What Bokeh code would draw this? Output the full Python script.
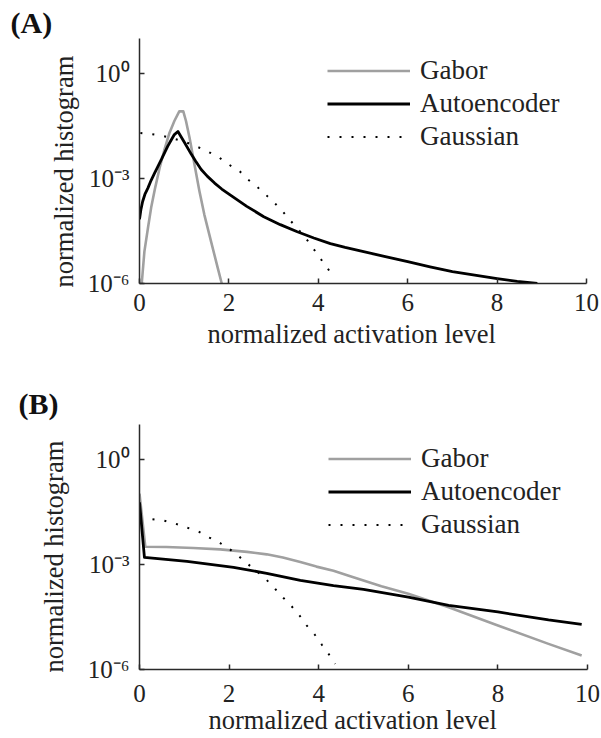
from bokeh.plotting import figure
from bokeh.models import Range1d, FixedTicker, Legend, LegendItem, Title
from bokeh.layouts import column
from bokeh.embed import file_html
from bokeh.resources import INLINE

# ---- data -------------------------------------------------------------
# panel (A)
act_gabor_a = [0.05, 0.11, 0.19, 0.26, 0.35, 0.45, 0.56, 0.67, 0.78, 0.89,
               0.98, 1.04, 1.12, 1.23, 1.34, 1.45, 1.60, 1.75, 1.84]
hist_gabor_a = [1.0e-6, 8.3e-6, 3.9e-5, 1.45e-4, 5.4e-4, 2.0e-3, 6.8e-3, 2.0e-2, 4.4e-2, 8.3e-2,
                8.3e-2, 4.4e-2, 1.45e-2, 2.5e-3, 4.4e-4, 9.3e-5, 1.6e-5, 2.8e-6, 1.0e-6]

act_auto_a = [0.00, 0.03, 0.07, 0.12, 0.19, 0.26, 0.34, 0.41, 0.49, 0.56, 0.63, 0.70, 0.78, 0.86,
              1.01, 1.16, 1.25, 1.38, 1.52, 1.68, 1.84, 2.01, 2.40, 2.78, 3.15, 3.53, 3.90,
              4.27, 4.60, 4.94, 5.50, 6.00, 6.50, 7.00, 7.50, 8.00, 8.45, 8.90]
hist_auto_a = [6.8e-5, 1.26e-4, 2.2e-4, 3.5e-4, 5.4e-4, 8.9e-4, 1.45e-3, 2.2e-3, 3.5e-3, 5.4e-3,
               8.3e-3, 1.2e-2, 1.8e-2, 2.2e-2,
               1.05e-2, 4.9e-3, 3.2e-3, 1.8e-3, 1.15e-3, 7.4e-4, 5.0e-4, 3.5e-4, 1.6e-4, 8.1e-5,
               4.8e-5, 3.0e-5, 2.0e-5,
               1.38e-5, 1.07e-5, 8.5e-6, 5.9e-6, 4.2e-6, 3.0e-6, 2.2e-6, 1.74e-6, 1.38e-6,
               1.15e-6, 1.0e-6]

act_gauss_a = [0.02, 0.26, 0.52, 0.79, 1.05, 1.29, 1.54, 1.79, 2.00, 2.24, 2.42,
               2.63, 2.83, 3.03, 3.21, 3.39, 3.56, 3.74, 3.90, 4.05, 4.21, 4.36]
hist_gauss_a = [2.0e-2, 1.86e-2, 1.66e-2, 1.35e-2, 1.07e-2, 8.1e-3, 5.8e-3, 3.9e-3, 2.5e-3,
                1.62e-3, 9.5e-4, 5.8e-4, 3.4e-4, 1.95e-4, 1.12e-4, 6.0e-5, 3.4e-5, 1.82e-5,
                9.5e-6, 5.1e-6, 2.7e-6, 1.38e-6]

# panel (B)
act_gabor_b = [0.00, 0.13, 0.60, 1.20, 1.80, 2.40, 2.84, 3.20, 3.59, 3.95, 4.33, 4.67,
               5.00, 5.40, 6.00, 6.90, 8.00, 9.13, 9.87]
hist_gabor_b = [1.05e-1, 3.2e-3, 3.15e-3, 2.95e-3, 2.7e-3, 2.3e-3, 1.95e-3, 1.58e-3, 1.17e-3,
                8.7e-4, 6.6e-4, 4.8e-4, 3.5e-4, 2.4e-4, 1.45e-4, 6.0e-5, 1.8e-5, 5.4e-6, 2.5e-6]

act_auto_b = [0.00, 0.11, 1.06, 2.10, 2.84, 3.59, 4.33, 5.00, 6.00, 6.90, 8.00, 9.13, 9.87]
hist_auto_b = [6.0e-2, 1.6e-3, 1.23e-3, 8.3e-4, 5.6e-4, 3.5e-4, 2.5e-4, 1.95e-4, 1.17e-4,
               6.8e-5, 4.4e-5, 2.6e-5, 1.95e-5]

act_gauss_b = [0.29, 0.55, 0.81, 1.07, 1.32, 1.56, 1.80, 2.02, 2.23, 2.43, 2.63,
               2.84, 3.03, 3.21, 3.40, 3.57, 3.73, 3.91, 4.07, 4.22, 4.37]
hist_gauss_b = [1.95e-2, 1.78e-2, 1.45e-2, 1.12e-2, 8.7e-3, 5.9e-3, 4.1e-3, 2.7e-3, 1.66e-3,
                1.0e-3, 6.2e-4, 3.6e-4, 2.0e-4, 1.12e-4, 6.3e-5, 3.5e-5, 1.82e-5, 1.0e-5,
                5.1e-6, 2.8e-6, 1.45e-6]

series_names = ["Gabor", "Autoencoder", "Gaussian"]
x_ticks = [0, 2, 4, 6, 8, 10]
y_ticks = [1e-6, 1e-3, 1e0]
y_tick_labels = ["10\u207b\u2076", "10\u207b\u00b3", "10\u2070"]
x_title = "normalized activation level"
y_title = "normalized histogram"

SERIF = "Liberation Serif"
AXIS_COLOR = "#2a2a2a"
TEXT_COLOR = "#222222"
GRAY = "#a0a0a0"


def axis_title(text, offset, standoff):
    # align="left" so that the offset moves the text along the axis
    return Title(text=text, align="left", offset=offset, standoff=standoff,
                 text_font=SERIF, text_font_size="26.5px", text_font_style="normal",
                 text_color=TEXT_COLOR)


def panel(tag, data, left, right, top, bottom, legend_xy, x_label_standoff,
          x_title_pos, y_title_pos, tag_offset, tag_standoff):
    p = figure(frame_width=601 - left - right, frame_height=245,
               min_border_left=left, min_border_right=right,
               min_border_top=top, min_border_bottom=bottom,
               x_range=Range1d(0, 10), y_range=Range1d(1e-6, 10),
               y_axis_type="log", output_backend="svg", toolbar_location=None)
    p.outline_line_color = None
    p.grid.visible = False
    p.background_fill_color = "white"
    p.border_fill_color = "white"

    # panel tag, e.g. "(A)", at the top-left corner of the canvas
    p.title.text = tag
    p.title.align = "left"
    p.title.offset = tag_offset
    p.title.standoff = tag_standoff
    p.title.text_font = SERIF
    p.title.text_font_size = "30px"
    p.title.text_font_style = "bold"
    p.title.text_color = "#111111"

    (xg, yg), (xa, ya), (xn, yn) = data
    r_gabor = p.line(xg, yg, line_color=GRAY, line_width=2.6, line_join="round")
    r_auto = p.line(xa, ya, line_color="black", line_width=2.8, line_join="round")
    r_gauss = p.line(xn, yn, line_color="black", line_width=2, line_dash="2 10")

    for ax in (p.xaxis[0], p.yaxis[0]):
        ax.axis_line_color = AXIS_COLOR
        ax.axis_line_width = 1.5
        ax.major_tick_line_color = AXIS_COLOR
        ax.major_tick_line_width = 1.5
        ax.major_tick_in = 5
        ax.major_tick_out = 0
        ax.minor_tick_line_color = None
        ax.major_label_text_font = SERIF
        ax.major_label_text_font_size = "25px"
        ax.major_label_text_color = TEXT_COLOR

    p.xaxis.ticker = FixedTicker(ticks=x_ticks)
    p.xaxis.major_label_standoff = x_label_standoff

    p.yaxis.ticker = FixedTicker(ticks=y_ticks)
    p.yaxis.major_label_overrides = dict(zip(y_ticks, y_tick_labels))
    p.yaxis.major_label_standoff = 10

    # axis titles, laid out beyond the tick labels
    p.add_layout(axis_title(x_title, *x_title_pos), "below")
    p.add_layout(axis_title(y_title, *y_title_pos), "left")

    legend = Legend(
        items=[LegendItem(label=n, renderers=[r]) for n, r in
               zip(series_names, [r_gabor, r_auto, r_gauss])],
        location=legend_xy, glyph_width=83, glyph_height=33, label_height=33,
        label_standoff=10, spacing=0, padding=0, margin=0,
        border_line_color=None, background_fill_alpha=0,
        label_text_font=SERIF, label_text_font_size="27px",
        label_text_color=TEXT_COLOR)
    p.add_layout(legend)
    return p


pa = panel("(A)",
           [(act_gabor_a, hist_gabor_a), (act_auto_a, hist_auto_a), (act_gauss_a, hist_gauss_a)],
           left=139, right=15, top=38, bottom=82, legend_xy=(188, 130),
           x_label_standoff=10, x_title_pos=(68, 6), y_title_pos=(-4, 12),
           tag_offset=-129, tag_standoff=0)
pb = panel("(B)",
           [(act_gabor_b, hist_gabor_b), (act_auto_b, hist_auto_b), (act_gauss_b, hist_gauss_b)],
           left=131, right=22, top=59, bottom=69, legend_xy=(189, 128),
           x_label_standoff=15, x_title_pos=(69, -4), y_title_pos=(-3, 32),
           tag_offset=-121, tag_standoff=9)

layout = column(pa, pb, spacing=0)
open("out.html", "w").write(file_html(layout, INLINE))
